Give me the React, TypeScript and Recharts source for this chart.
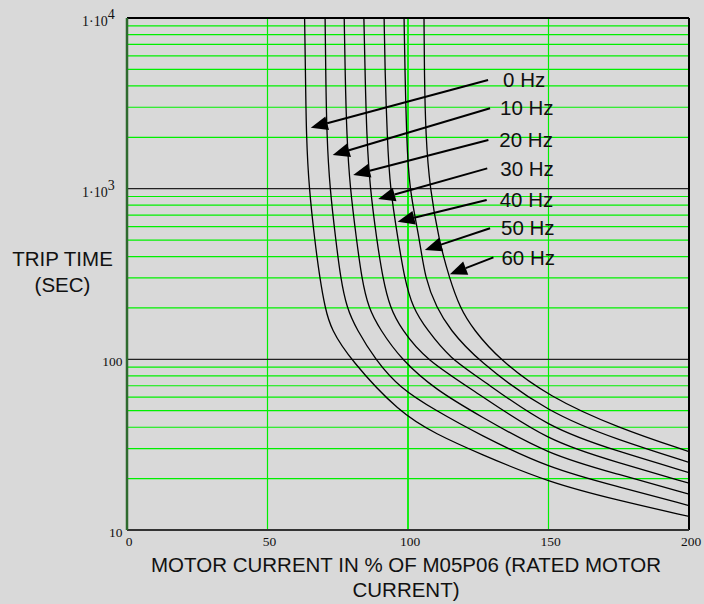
import React from "react";
import { LineChart, Line, XAxis, YAxis, ReferenceLine } from "recharts";

// [current %, trip time s]
const curve0Hz = [[63.2, 10000], [63.5, 5000], [63.8, 2000], [64.8, 1000], [66.8, 500], [68.6, 300], [70.5, 200], [72.6, 150], [79.4, 100], [97, 48.5], [110, 36.5], [125, 28.2], [150, 19.0], [175, 14.9], [200, 12]];
const curve10Hz = [[70.5, 10000], [70.7, 5000], [71.1, 2000], [72.2, 1000], [74.3, 500], [76.0, 300], [78.2, 200], [81.7, 150], [88.3, 100], [97, 68], [110, 50], [125, 36.5], [150, 23], [175, 17.9], [200, 13.9]];
const curve20Hz = [[77.3, 10000], [77.6, 5000], [78.2, 2000], [79.4, 1000], [81.7, 500], [83.5, 300], [85.9, 200], [90, 150], [97.5, 100], [110, 66], [125, 47.2], [150, 27.5], [175, 21.2], [200, 16.2]];
const curve30Hz = [[84.3, 10000], [84.7, 5000], [85.3, 2000], [86.5, 1000], [88.9, 500], [91, 300], [93.6, 200], [97.7, 150], [106, 100], [125, 63.2], [150, 32.9], [175, 24.8], [200, 18.8]];
const curve40Hz = [[91.5, 10000], [91.8, 5000], [92.6, 2000], [93.6, 1000], [96.5, 500], [98.7, 300], [101.7, 200], [106.6, 150], [115.3, 100], [125, 79], [150, 39.4], [175, 28.8], [200, 21.7]];
const curve50Hz = [[98.6, 10000], [98.9, 5000], [99.5, 2000], [100.4, 1000], [104.2, 500], [106, 300], [110.2, 200], [114.9, 150], [124.2, 100], [150, 48.3], [175, 33.6], [200, 24.9]];
const curve60Hz = [[105.7, 10000], [105.8, 5000], [106.3, 2000], [107.8, 1000], [111, 500], [114.7, 300], [118.5, 200], [123.2, 150], [132.4, 100], [150, 60.4], [175, 39.5], [200, 28.8]];

const curves = [curve0Hz, curve10Hz, curve20Hz, curve30Hz, curve40Hz, curve50Hz, curve60Hz];

// arrow labels with tail / tip in data units
const arrowLabels = ["0 Hz", "10 Hz", "20 Hz", "30 Hz", "40 Hz", "50 Hz", "60 Hz"];
const arrowTails = [[128.5, 4331], [129.2, 2958], [128.6, 1928], [128.2, 1315], [128.0, 859], [129.2, 586], [130.4, 396]];
const arrowTips = [[65.4, 2276], [73.2, 1574], [80.5, 1202], [89.4, 869], [96.3, 640], [106.0, 437], [114.9, 315]];
const labelShift = [15, 10, 11, 13, 13, 11, 8];

const xTicks = [0, 50, 100, 150, 200];
const yTicks = [10, 100, 1000, 10000];
const yTickBase = ["10", "100", "1·10", "1·10"];
const yTickExp = ["", "", "3", "4"];

const decades = [10, 100, 1000];
const minorSteps = [2, 3, 4, 5, 6, 7, 8, 9];

const BG = "#d9d9d9";
const SANS = "'Liberation Sans', Arial, sans-serif";
const SERIF = "'Liberation Serif', 'Times New Roman', serif";

const YTick = (props: any) => {
    const { y, payload } = props;
    const i = yTicks.indexOf(payload.value);
    if (yTickExp[i]) {
        return (
            <text x={82} y={y + 8} fontFamily={SERIF} fontSize={14} fill="#111" textAnchor="start">
                {yTickBase[i]}
                <tspan dy={-7} fontSize={14}>{yTickExp[i]}</tspan>
            </text>
        );
    }
    return (
        <text x={122.5} y={y + 7} fontFamily={SERIF} fontSize={13.5} fill="#111" textAnchor="end">
            {yTickBase[i]}
        </text>
    );
};

const XTick = (props: any) => {
    const { x, payload } = props;
    return (
        <text x={x + 2} y={546} fontFamily={SERIF} fontSize={13.5} fill="#111" textAnchor="middle">
            {payload.value}
        </text>
    );
};

const Arrow = (props: any) => {
    const { x1, y1, x2, y2, text, shift } = props;
    const a = Math.atan2(y2 - y1, x2 - x1);
    const len = 17;
    const half = 7;
    const bx = x2 - len * Math.cos(a);
    const by = y2 - len * Math.sin(a);
    const pts = `${x2},${y2} ${bx - half * Math.sin(a)},${by + half * Math.cos(a)} ${bx + half * Math.sin(a)},${by - half * Math.cos(a)}`;
    return (
        <g>
            <line x1={x1} y1={y1} x2={bx} y2={by} stroke="#000" strokeWidth={2} />
            <polygon points={pts} fill="#000" />
            <text x={x1 + shift} y={y1} dy="0.35em" fontFamily={SANS} fontSize={20.5} fill="#111">
                {text}
            </text>
        </g>
    );
};

export default function App() {
    return (
        <div style={{ position: "absolute", left: 0, top: 0, width: 704, height: 604, background: BG }}>
            <LineChart width={704} height={604} margin={{ top: 18, right: 15, bottom: 44, left: 7 }}>
                <XAxis
                    type="number"
                    dataKey="current"
                    domain={[0, 200]}
                    ticks={xTicks}
                    allowDataOverflow
                    height={30}
                    tickLine={false}
                    axisLine={{ stroke: "#333", strokeWidth: 2 }}
                    tick={<XTick />}
                />
                <YAxis
                    type="number"
                    scale="log"
                    domain={[10, 10000]}
                    ticks={yTicks}
                    allowDataOverflow
                    width={120}
                    tickLine={false}
                    axisLine={{ stroke: "#2e6a2e", strokeWidth: 2.5 }}
                    tick={<YTick />}
                />

                {decades.flatMap((d) =>
                    minorSteps.map((k) => (
                        <ReferenceLine key={`m${d * k}`} y={d * k} stroke="#00f000" strokeWidth={1.2} />
                    ))
                )}
                {[50, 100, 150].map((v) => (
                    <ReferenceLine key={`v${v}`} x={v} stroke="#00f000" strokeWidth={v === 100 ? 1.8 : 1.2} />
                ))}
                {[100, 1000].map((v) => (
                    <ReferenceLine key={`d${v}`} y={v} stroke="#222" strokeWidth={1.2} />
                ))}
                <ReferenceLine y={10000} stroke="#000" strokeWidth={2} />
                <ReferenceLine x={200} stroke="#000" strokeWidth={2} />

                {curves.map((c, i) => (
                    <Line
                        key={arrowLabels[i]}
                        data={c.map(([current, time]) => ({ current, time }))}
                        dataKey="time"
                        type="basis"
                        stroke="#000"
                        strokeWidth={1.3}
                        dot={false}
                        isAnimationActive={false}
                    />
                ))}

                {arrowLabels.map((label, i) => (
                    <ReferenceLine
                        key={`a${label}`}
                        segment={[
                            { x: arrowTails[i][0], y: arrowTails[i][1] },
                            { x: arrowTips[i][0], y: arrowTips[i][1] },
                        ]}
                        shape={(p: any) => <Arrow {...p} text={label} shift={labelShift[i]} />}
                    />
                ))}

                <text x={62.5} y={259} dy="0.35em" textAnchor="middle" fontFamily={SANS} fontSize={20.5} fill="#111">
                    TRIP TIME
                </text>
                <text x={62.5} y={285} dy="0.35em" textAnchor="middle" fontFamily={SANS} fontSize={20.5} fill="#111">
                    (SEC)
                </text>
                <text x={406} y={565} dy="0.35em" textAnchor="middle" fontFamily={SANS} fontSize={20.5} fill="#111">
                    MOTOR CURRENT IN % OF M05P06 (RATED MOTOR
                </text>
                <text x={406} y={590} dy="0.35em" textAnchor="middle" fontFamily={SANS} fontSize={20.5} fill="#111">
                    CURRENT)
                </text>
            </LineChart>
        </div>
    );
}
